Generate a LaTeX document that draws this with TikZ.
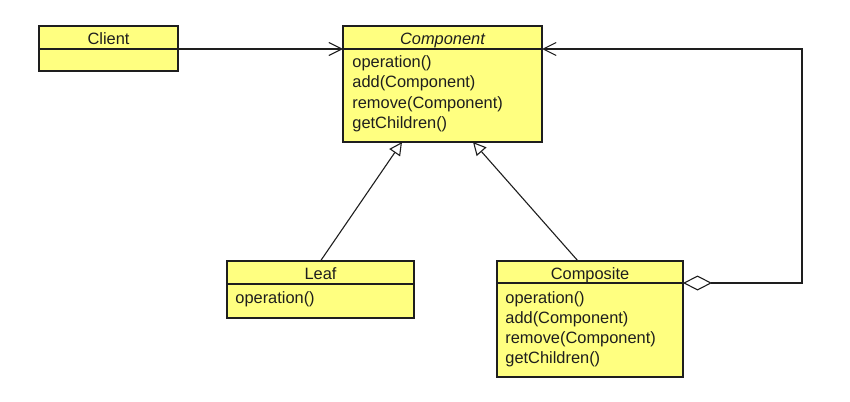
\documentclass[tikz,border=0pt]{standalone}
\usepackage{fontspec}
\setmainfont{Liberation Sans}
\usetikzlibrary{arrows.meta,calc}
\definecolor{classfill}{RGB}{255,255,128}
\definecolor{ink}{RGB}{30,30,30}
\tikzset{
  x=0.5pt, y=-0.5pt,
  every node/.style={font=\fontsize{8.2pt}{10pt}\selectfont, text=ink},
  classpart/.style={draw=ink, fill=classfill, line width=0.6pt, inner sep=0pt, outer sep=0pt, anchor=north west},
  title/.style={anchor=base, inner sep=0pt},
  member/.style={anchor=base west, inner sep=0pt},
  conn/.style={draw=ink, line width=0.55pt},
  assoc/.style={conn, -{Straight Barb[length=6.5pt, width=6.5pt, line width=0.55pt]}},
  inherit/.style={conn, -{Triangle[open, length=6.5pt, width=6.5pt, fill=white, line width=0.55pt]}},
  aggr/.style={conn, {Diamond[open, length=14.5pt, width=7.5pt, fill=white, line width=0.55pt]}-{Straight Barb[length=6.5pt, width=6.5pt, line width=0.55pt]}}
}
\begin{document}
\begin{tikzpicture}
\useasboundingbox (0,0) rectangle (850,401);

% Client
\node[classpart, minimum width={139*0.5pt}, minimum height={23*0.5pt}] (clientH) at (39,26) {};
\node[classpart, minimum width={139*0.5pt}, minimum height={22*0.5pt}] (clientB) at (clientH.south west) {};
\node[title] (clientT) at ($(clientH.south)+(0,-4)$) {Client};

% Component
\node[classpart, minimum width={199*0.5pt}, minimum height={23*0.5pt}] (compH) at (343,26) {};
\node[classpart, minimum width={199*0.5pt}, minimum height={93*0.5pt}] (compB) at (compH.south west) {};
\node[title] (compT) at ($(compH.south)+(0,-4)$) {\itshape Component};
\node[member] (compM1) at ($(compB.north west)+(9,19)$) {operation()};
\node[member] (compM2) at ($(compB.north west)+(9,39)$) {add(Component)};
\node[member] (compM3) at ($(compB.north west)+(9,59)$) {remove(Component)};
\node[member] (compM4) at ($(compB.north west)+(9,79)$) {getChildren()};

% Leaf
\node[classpart, minimum width={187*0.5pt}, minimum height={23*0.5pt}] (leafH) at (227,261) {};
\node[classpart, minimum width={187*0.5pt}, minimum height={34*0.5pt}] (leafB) at (leafH.south west) {};
\node[title] (leafT) at ($(leafH.south)+(0,-4.5)$) {Leaf};
\node[member] (leafM1) at ($(leafB.north west)+(8,19)$) {operation()};

% Composite
\node[classpart, minimum width={186*0.5pt}, minimum height={22*0.5pt}] (cmpsH) at (497,261) {};
\node[classpart, minimum width={186*0.5pt}, minimum height={94*0.5pt}] (cmpsB) at (cmpsH.south west) {};
\node[title] (cmpsT) at ($(cmpsH.south)+(0,-4)$) {Composite};
\node[member] (cmpsM1) at ($(cmpsB.north west)+(8,20)$) {operation()};
\node[member] (cmpsM2) at ($(cmpsB.north west)+(8,40)$) {add(Component)};
\node[member] (cmpsM3) at ($(cmpsB.north west)+(8,60)$) {remove(Component)};
\node[member] (cmpsM4) at ($(cmpsB.north west)+(8,80)$) {getChildren()};

% Client uses Component
\draw[assoc] (clientH.south east) -- (compH.south west);

% Leaf and Composite generalise Component
\draw[inherit] (leafH.north) -- ($(compB.south)+(-40.5,0)$);
\draw[inherit] ($(cmpsH.north west)+(81,0)$) -- ($(compB.south)+(30.5,0)$);

% Composite aggregates Components
\coordinate (bendA) at ($(cmpsH.south east)+(119,0)$);
\coordinate (bendB) at (bendA |- compH.south east);
\draw[aggr] (cmpsH.south east) -- (bendA) -- (bendB) -- (compH.south east);
\end{tikzpicture}
\end{document}
